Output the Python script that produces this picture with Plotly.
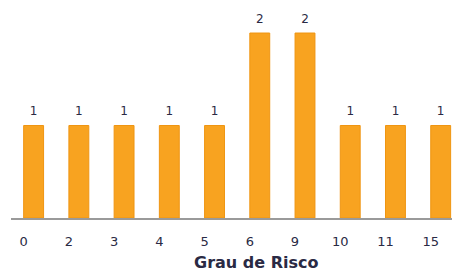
import plotly.graph_objects as go

categories = ["0", "2", "3", "4", "5", "6", "9", "10", "11", "15"]
values = [1, 1, 1, 1, 1, 2, 2, 1, 1, 1]
x_title = "Grau de Risco"

font_fam = "DejaVu Sans"
fig = go.Figure()
fig.add_trace(go.Bar(
    x=categories, y=values,
    marker=dict(color="#F8A320", line=dict(color="#EF9512", width=1)),
    width=0.44, hoverinfo="skip",
))
fig.add_trace(go.Scatter(
    x=categories, y=values, mode="text+markers",
    text=[str(v) for v in values], textposition="top center",
    marker=dict(size=10, opacity=0),
    textfont=dict(size=12, color="#2a2a44", family=font_fam),
    cliponaxis=False, hoverinfo="skip",
))
fig.update_layout(
    width=452, height=275,
    margin=dict(l=11, r=0, t=0, b=57),
    paper_bgcolor="white", plot_bgcolor="white",
    showlegend=False,
    xaxis=dict(
        type="category", range=[-0.5, 9.25],
        showline=True, linecolor="#9a9a9a", linewidth=2,
        ticks="", showgrid=False,
        ticklabelshift=-10, ticklabelstandoff=10,
        tickfont=dict(size=13, color="#2a2a44", family=font_fam),
    ),
    yaxis=dict(range=[0, 2.357], visible=False, showgrid=False),
    annotations=[dict(
        text="<b>" + x_title + "</b>", xref="paper", yref="paper",
        x=0.556, y=-0.206, xanchor="center", yanchor="middle", showarrow=False,
        font=dict(size=16, color="#2a2a44", family=font_fam),
    )],
)
fig.write_html("out.html", config={"displayModeBar": False},
               post_script="document.body.style.margin='0';")
